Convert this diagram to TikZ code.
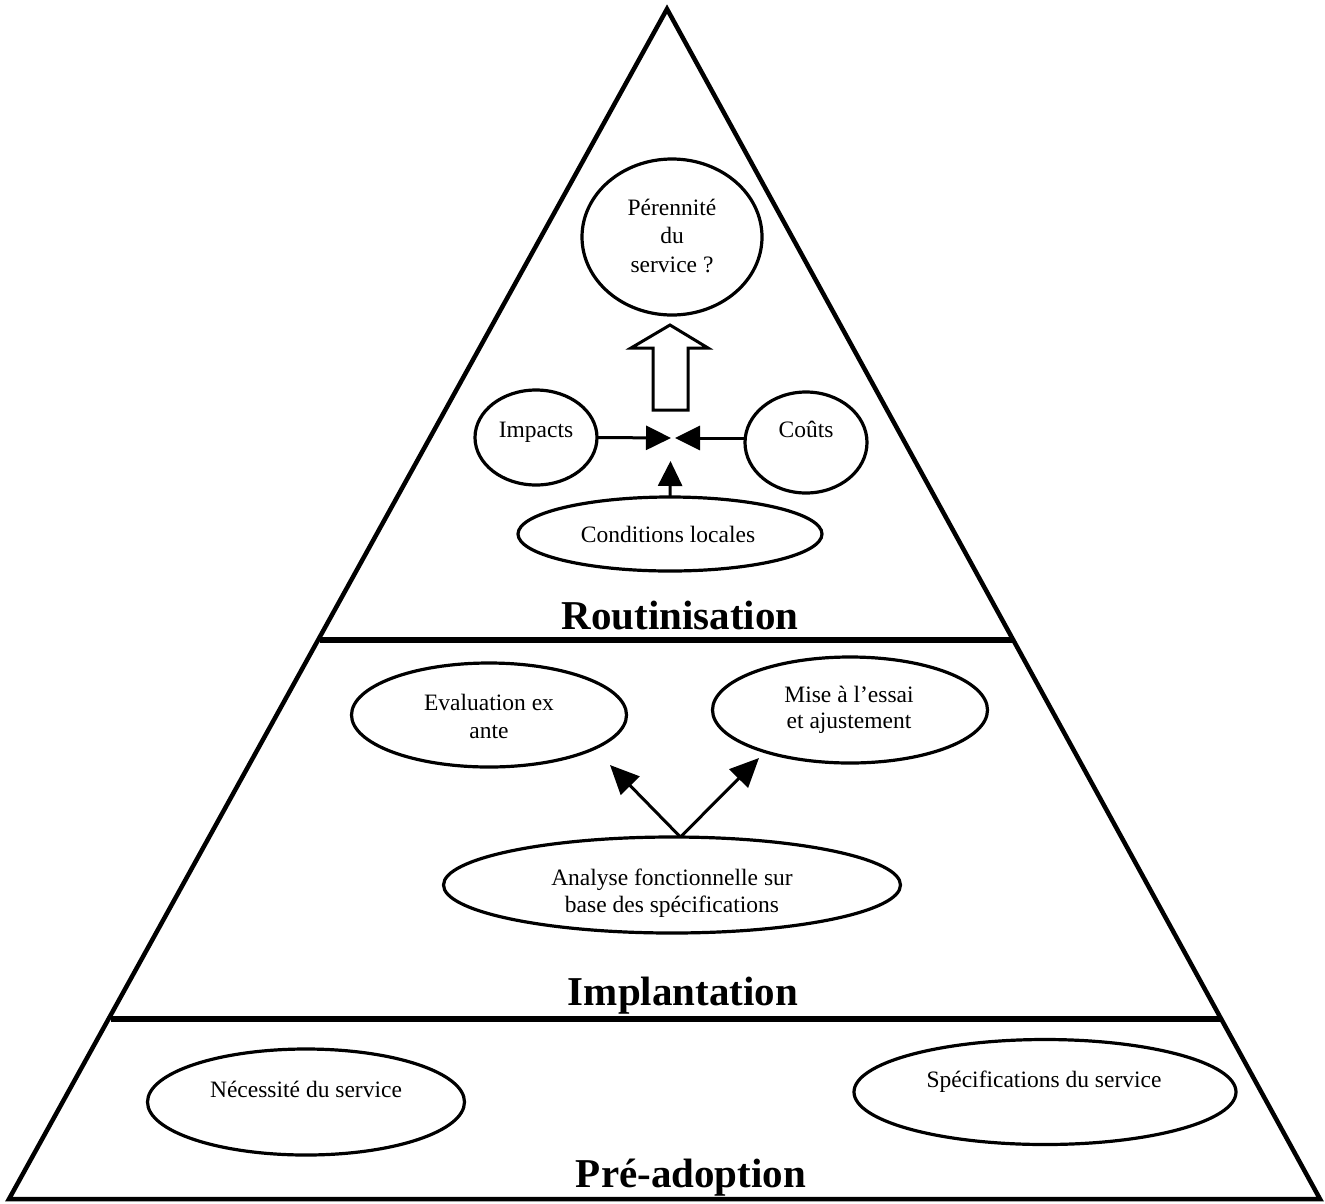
\documentclass[tikz,border=0pt]{standalone}
\usepackage{fontspec}
\setmainfont{Liberation Serif}
\usetikzlibrary{shapes.geometric,arrows.meta}
\begin{document}
\begin{tikzpicture}[x=1pt,y=-1pt,
  oval/.style={draw,ellipse,line width=3.2pt,inner sep=0pt,outer sep=0pt},
  txt/.style={anchor=base,inner sep=0pt,font=\fontsize{23.5}{27}\selectfont},
  phase/.style={anchor=base,inner sep=0pt,font=\fontsize{41}{45}\selectfont\bfseries},
  conn/.style={line width=3pt,-{Triangle[length=25pt,width=24pt]}},
  connb/.style={line width=3pt,-{Triangle[length=29pt,width=26pt]}}]
\useasboundingbox (0,0) rectangle (1325,1203);
% pyramid
\coordinate (apex) at (667,9);
\coordinate (bl) at (9,1199);
\coordinate (br) at (1320,1199);
\draw[line width=4.5pt,line join=miter] (apex) -- (bl) -- (br) -- cycle;
\coordinate (s1l) at (320,640);
\coordinate (s1r) at (1013,640);
\coordinate (s2l) at (111,1019);
\coordinate (s2r) at (1221,1019);
\draw[line width=6pt] (s1l) -- (s1r);
\draw[line width=6pt] (s2l) -- (s2r);
% phase labels
\node[phase] (rout) at (680,629) {Routinisation};
\node[phase] (impl) at (683,1005) {Implantation};
\node[phase] (prea) at (691,1187) {Pré-adoption};
% Routinisation
\node[oval,minimum width=180pt,minimum height=156pt] (per) at (672,237) {};
\node[txt] (per1) at (672,215) {Pérennité};
\node[txt] (per2) at (672,243) {du};
\node[txt] (per3) at (672,272) {service ?};
\node[oval,minimum width=122pt,minimum height=95pt] (imp) at (536,437.5) {};
\node[txt] (impt) at (536,437) {Impacts};
\node[oval,minimum width=122pt,minimum height=101pt] (cou) at (806,442.5) {};
\node[txt] (cout) at (806,437) {Coûts};
\node[oval,minimum width=304pt,minimum height=74pt] (cond) at (670,534) {};
\node[txt] (condt) at (668,542) {Conditions locales};
\coordinate (tipL) at (671,438);
\coordinate (tipR) at (675,438);
\coordinate (tipU) at (670.5,461);
\draw[conn] (imp.east) -- (tipL);
\draw[conn] (cou.west |- tipR) -- (tipR);
\draw[conn] (cond.north) -- (tipU);
\draw[line width=3pt,line join=miter] (653,410) -- (688,410) -- (688,348) -- (708,348) -- (670,325) -- (631,348) -- (653,348) -- cycle;
% Implantation
\node[oval,minimum width=275pt,minimum height=104pt] (eva) at (489,715) {};
\node[txt] (eva1) at (489,710) {Evaluation ex};
\node[txt] (eva2) at (489,738) {ante};
\node[oval,minimum width=275pt,minimum height=106pt] (mis) at (850,710) {};
\node[txt] (mis1) at (849,702) {Mise à l’essai};
\node[txt] (mis2) at (849,728) {et ajustement};
\node[oval,minimum width=457pt,minimum height=96pt] (ana) at (672,885) {};
\node[txt] (ana1) at (672,885) {Analyse fonctionnelle sur};
\node[txt] (ana2) at (672,912) {base des spécifications};
\coordinate (tipE) at (610,765);
\coordinate (tipM) at (759,758);
\draw[connb] (ana.80) -- (tipE);
\draw[connb] (ana.80) -- (tipM);
% Pre-adoption
\node[oval,minimum width=317pt,minimum height=106pt] (nec) at (306,1102) {};
\node[txt] (nect) at (306,1097) {Nécessité du service};
\node[oval,minimum width=382pt,minimum height=105pt] (spe) at (1045,1092) {};
\node[txt] (spet) at (1044,1087) {Spécifications du service};
\end{tikzpicture}
\end{document}
